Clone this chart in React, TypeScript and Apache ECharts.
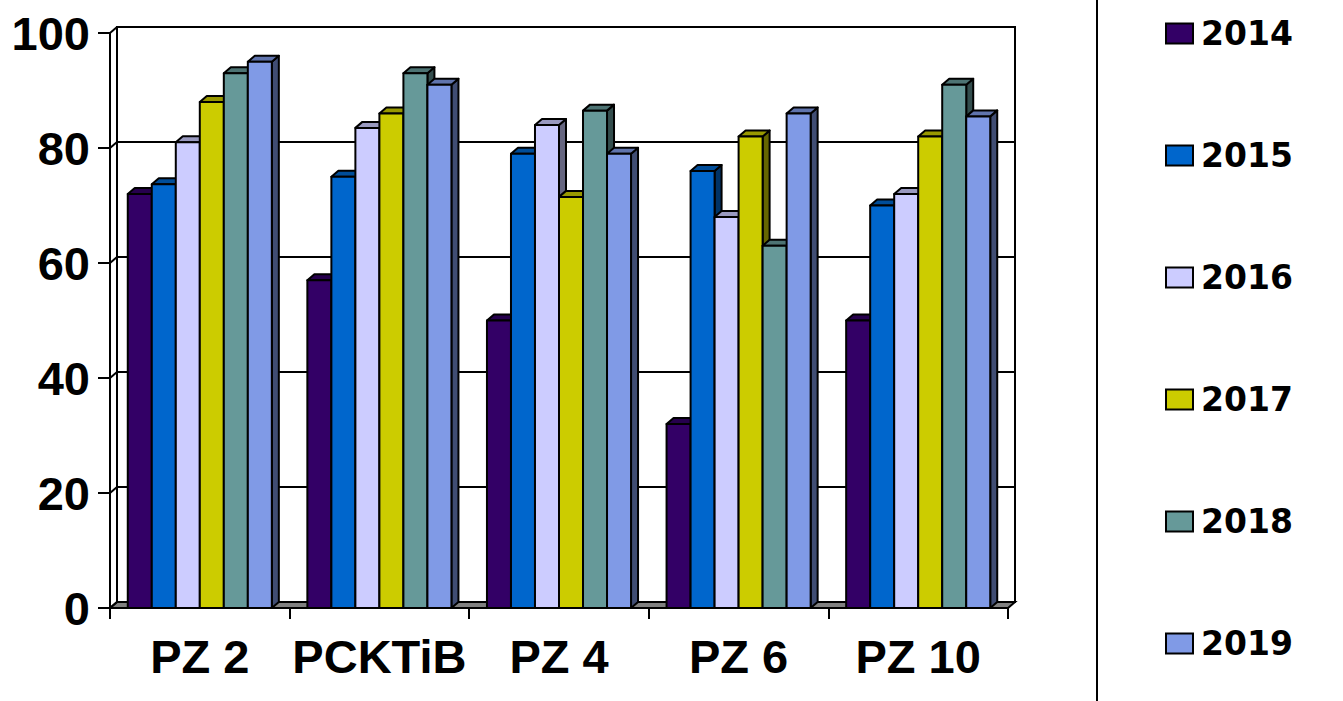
import React, { useEffect, useRef } from "react";
import * as echarts from "echarts";

const categories = ["PZ 2", "PCKTiB", "PZ 4", "PZ 6", "PZ 10"];
const years = ["2014", "2015", "2016", "2017", "2018", "2019"];
const v2014 = [72, 57, 50, 32, 50];
const v2015 = [73.7, 75, 79, 76, 70];
const v2016 = [81, 83.5, 84, 68, 72];
const v2017 = [88, 86, 71.5, 82, 82];
const v2018 = [93, 93, 86.5, 63, 91];
const v2019 = [95, 91, 79, 86, 85.5];
const yTicks = [0, 20, 40, 60, 80, 100];

const seriesValues = [v2014, v2015, v2016, v2017, v2018, v2019];
const colors = ["#330066", "#0066CC", "#CCCCFF", "#CCCC00", "#669999", "#809AE6"];

const DX = 7;
const DY = -6;
const FONT = "'Liberation Sans', Arial, sans-serif";

function shade(hex: string, f: number): string {
  const n = parseInt(hex.slice(1), 16);
  const r = Math.round(((n >> 16) & 255) * f);
  const g = Math.round(((n >> 8) & 255) * f);
  const b = Math.round((n & 255) * f);
  return "rgb(" + r + "," + g + "," + b + ")";
}

export default function App() {
  const ref = useRef<HTMLDivElement>(null);
  useEffect(() => {
    if (!ref.current) return;
    const chart = echarts.init(ref.current, null, { renderer: "svg" });

    const barSeries = years.map((year, i) => ({
      type: "custom",
      name: year,
      xAxisIndex: 0,
      yAxisIndex: 0,
      z: 5,
      itemStyle: { color: colors[i] },
      encode: { x: 0, y: 1 },
      data: categories.map((_, j) => [j, seriesValues[i][j]]),
      renderItem: (params: any, api: any) => {
        const cat = api.value(0);
        const v = api.value(1);
        const band = api.size([1, 0])[0];
        const bw = band * 0.1337;
        const c = api.coord([cat, v]);
        const b = api.coord([cat, 0]);
        const x0 = c[0] - 3 * bw + i * bw;
        const x1 = x0 + bw;
        const top = c[1];
        const bottom = b[1];
        const stroke = { stroke: "#000", lineWidth: 2, lineJoin: "round" };
        return {
          type: "group",
          children: [
            {
              type: "polygon",
              shape: { points: [[x1, top], [x1 + DX, top + DY], [x1 + DX, bottom + DY], [x1, bottom]] },
              style: { fill: shade(colors[i], 0.5), ...stroke },
            },
            {
              type: "polygon",
              shape: { points: [[x0, top], [x0 + DX, top + DY], [x1 + DX, top + DY], [x1, top]] },
              style: { fill: shade(colors[i], 0.75), ...stroke },
            },
            {
              type: "rect",
              shape: { x: x0, y: top, width: bw, height: bottom - top },
              style: { fill: colors[i], ...stroke },
            },
          ],
        };
      },
    }));

    const frameSeries = {
      type: "custom",
      name: "frame",
      xAxisIndex: 0,
      yAxisIndex: 0,
      silent: true,
      z: 3,
      data: yTicks.map((t) => [0, t]),
      renderItem: (params: any, api: any) => {
        const cs = params.coordSys;
        const t = api.value(1);
        const y = api.coord([0, t])[1];
        const children: any[] = [
          {
            type: "line",
            shape: { x1: cs.x, y1: y, x2: cs.x + DX, y2: y + DY },
            style: { stroke: "#000", lineWidth: 2 },
          },
        ];
        if (t === 0) {
          const xl = cs.x;
          const xr = cs.x + cs.width;
          children.unshift({
            type: "polygon",
            shape: { points: [[xl, y], [xl + DX, y + DY], [xr + DX, y + DY], [xr, y]] },
            style: { fill: "#808080", stroke: "#000", lineWidth: 2 },
          });
        }
        return { type: "group", children };
      },
    };

    const option: any = {
      animation: false,
      backgroundColor: "#fff",
      grid: [
        { left: 110, right: 335, top: 33, bottom: 93 },
        { left: 117, right: 328, top: 27, bottom: 99, show: true, borderColor: "#000", borderWidth: 2, backgroundColor: "transparent" },
      ],
      xAxis: [
        {
          type: "category",
          gridIndex: 0,
          data: categories,
          axisLine: { lineStyle: { color: "#000", width: 2 } },
          axisTick: { show: true, interval: 0, length: 11, lineStyle: { color: "#000", width: 2 } },
          axisLabel: { interval: 0, color: "#000", fontSize: 47, fontWeight: "bold", fontFamily: FONT, margin: 25 },
        },
        { type: "category", gridIndex: 1, data: categories, show: false },
      ],
      yAxis: [
        {
          type: "value",
          gridIndex: 0,
          min: 0,
          max: 100,
          interval: 20,
          axisLine: { show: true, lineStyle: { color: "#000", width: 2 } },
          axisTick: { show: true, length: 12, lineStyle: { color: "#000", width: 2 } },
          splitLine: { show: false },
          axisLabel: { color: "#000", fontSize: 47, fontWeight: "bold", fontFamily: FONT, margin: 20 },
        },
        {
          type: "value",
          gridIndex: 1,
          min: 0,
          max: 100,
          interval: 20,
          axisLine: { show: false },
          axisTick: { show: false },
          axisLabel: { show: false },
          splitLine: { show: true, lineStyle: { color: "#000", width: 2 } },
        },
      ],
      legend: {
        orient: "vertical",
        left: 1160,
        top: 12,
        itemWidth: 27,
        itemHeight: 20,
        itemGap: 89,
        data: years.map((y) => ({ name: y, icon: "rect" })),
        itemStyle: { borderColor: "#000", borderWidth: 2 },
        textStyle: {
          color: "#000",
          fontSize: 33,
          fontWeight: "bold",
          fontFamily: "'DejaVu Sans', sans-serif",
          lineHeight: 32,
          padding: [0, 0, 0, 3],
        },
        selectedMode: false,
      },
      graphic: [
        {
          type: "line",
          shape: { x1: 1097, y1: 0, x2: 1097, y2: 701 },
          style: { stroke: "#000", lineWidth: 2 },
        },
      ],
      series: [frameSeries, ...barSeries],
    };
    chart.setOption(option);
    return () => chart.dispose();
  }, []);
  return <div ref={ref} style={{ position: "fixed", left: 0, top: 0, width: 1343, height: 701 }} />;
}
